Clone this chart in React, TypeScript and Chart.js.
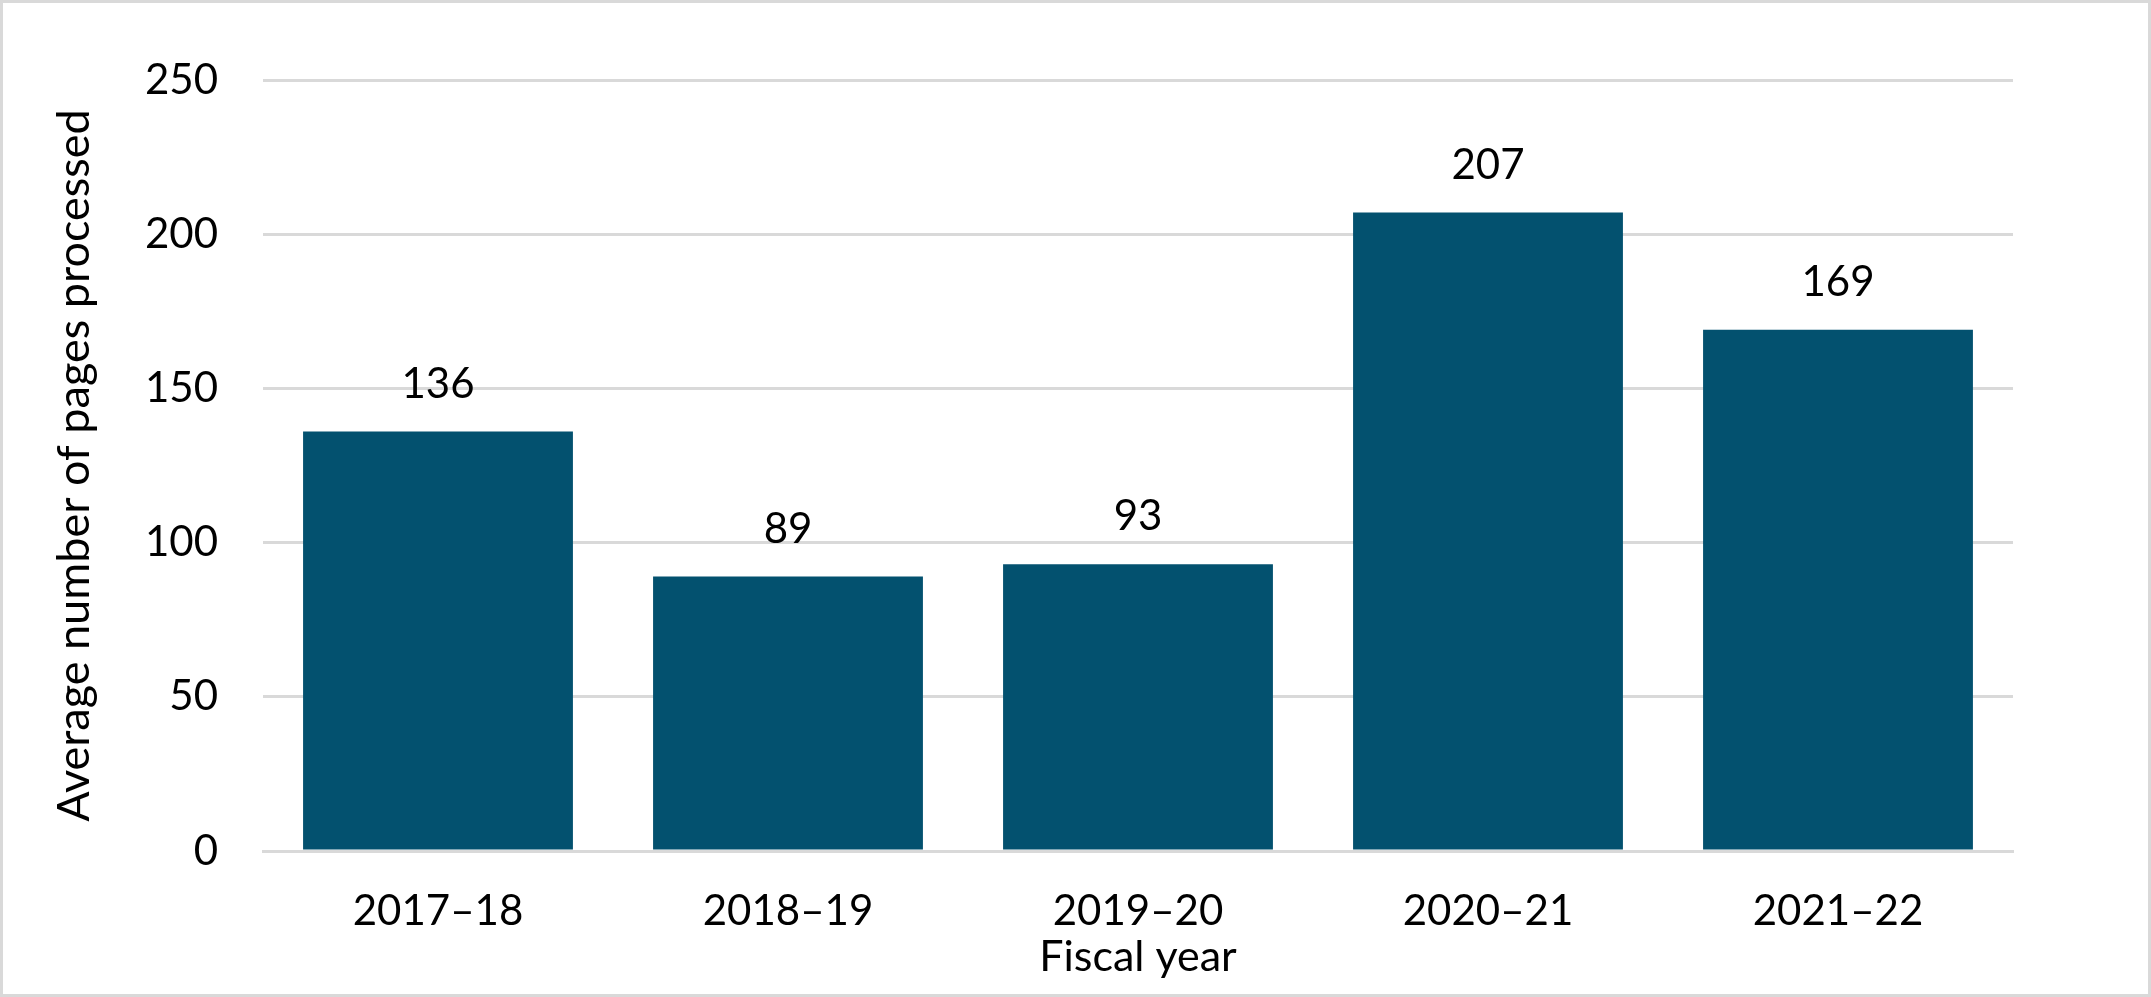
import React, { useEffect, useRef } from "react";
import { Chart, registerables } from "chart.js";

Chart.register(...registerables);

const categories = ["2017–18", "2018–19", "2019–20", "2020–21", "2021–22"];
const pageValues = [136, 89, 93, 207, 169];
const yTitle = "Average number of pages processed";
const xTitle = "Fiscal year";

const BAR_COLOR = "#03516F";
const GRID_COLOR = "#D9D9D9";
const FONT = "Lato, 'Open Sans', sans-serif";

export default function App() {
  const ref = useRef<HTMLCanvasElement | null>(null);

  useEffect(() => {
    document.body.style.margin = "0";
    const canvas = ref.current;
    if (!canvas) return;

    const labelPlugin = {
      id: "valueLabels",
      afterDatasetsDraw(chart: any) {
        const ctx = chart.ctx;
        const meta = chart.getDatasetMeta(0);
        ctx.save();
        ctx.font = `42px ${FONT}`;
        ctx.fillStyle = "#000";
        ctx.textAlign = "center";
        ctx.textBaseline = "alphabetic";
        meta.data.forEach((bar: any, i: number) => {
          ctx.fillText(String(pageValues[i]), bar.x, bar.y - 34);
        });
        ctx.restore();
      },
    };

    const borderPlugin = {
      id: "outerBorder",
      afterDraw(chart: any) {
        const ctx = chart.ctx;
        ctx.save();
        ctx.strokeStyle = GRID_COLOR;
        ctx.lineWidth = 3;
        ctx.strokeRect(1.5, 1.5, chart.width - 3, chart.height - 3);
        ctx.restore();
      },
    };

    const chart = new Chart(canvas, {
      type: "bar",
      data: {
        labels: categories,
        datasets: [
          {
            data: pageValues,
            backgroundColor: BAR_COLOR,
            borderWidth: 0,
            barPercentage: 0.771,
            categoryPercentage: 1,
          },
        ],
      },
      options: {
        animation: false,
        responsive: false,
        devicePixelRatio: 1,
        layout: { padding: { top: 80, right: 138, bottom: 0, left: 0 } },
        plugins: {
          legend: { display: false },
          tooltip: { enabled: false },
        },
        scales: {
          x: {
            z: 1,
            grid: { display: false, drawTicks: false },
            border: { display: true, color: GRID_COLOR, width: 3 },
            ticks: {
              color: "#000",
              font: { family: FONT, size: 42 },
              padding: 35,
              maxRotation: 0,
            },
            title: {
              display: true,
              text: xTitle,
              color: "#000",
              font: { family: FONT, size: 43 },
              padding: { top: 0, bottom: 14 },
            },
            afterFit(scale: any) {
              scale.height = 146;
            },
          },
          y: {
            min: 0,
            max: 250,
            grid: { color: GRID_COLOR, lineWidth: 3, drawTicks: false },
            border: { display: false },
            ticks: {
              stepSize: 50,
              color: "#000",
              font: { family: FONT, size: 42 },
              padding: 45,
            },
            title: {
              display: true,
              text: yTitle,
              color: "#000",
              font: { family: FONT, size: 45 },
              padding: { top: 47, bottom: 0 },
            },
            afterFit(scale: any) {
              scale.width = 263;
            },
          },
        },
      },
      plugins: [labelPlugin, borderPlugin],
    });

    return () => chart.destroy();
  }, []);

  return (
    <canvas
      ref={ref}
      width={2151}
      height={997}
      style={{ display: "block", width: "2151px", height: "997px" }}
    />
  );
}
